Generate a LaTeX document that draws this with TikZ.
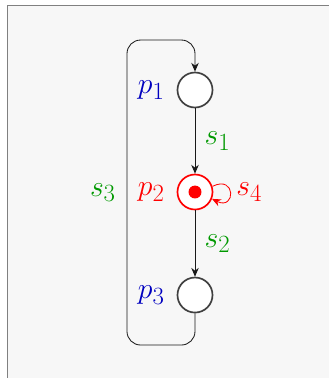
\documentclass[tikz,border=0pt]{standalone}
\usepackage{amsmath,amssymb}
\usepackage{tikz}
\usetikzlibrary{arrows.meta,positioning}

\begin{document}
\begin{tikzpicture}[every node/.style={font=\Huge, inner sep=2pt}, >={Stealth[length=2.6mm, width=2.2mm]}, place/.style={draw=black!75, circle, fill=white, line width=1.4pt, minimum size=10.3mm, inner sep=0pt}, token/.style={circle, fill=red, minimum size=3.8mm, inner sep=0pt}]
	\useasboundingbox (-5.735,5.647) rectangle (3.94,-5.47);
	\draw[gray, fill=black!3] (-5.51,5.49) rectangle (4.5,-6);
	\node[place] (p1) at (0,3) {};
	\node[place, draw=red] (p2) at (0,0) {};
	\node[place] (p3) at (0,-3.03) {};
	\node[token] (tok) at (p2) {};
	\node[left=2.8mm of p1, text=blue!75!black] (lp1) {$p_1$};
	\node[left=2.8mm of p2, text=red] (lp2) {$p_2$};
	\node[left=2.8mm of p3, text=blue!75!black] (lp3) {$p_3$};
	\node[right=6mm of p2, text=red] (ls4) {$s_4$};
	\coordinate (c1) at (-2,-4.5);
	\coordinate (c2) at (-2,4.47);
	\draw[->, line width=0.7pt, black!90] (p1) -- (p2) node[midway, right=2mm, text=green!60!black] {$s_1$};
	\draw[->, line width=0.7pt, black!90] (p2) -- (p3) node[midway, right=2mm, text=green!60!black] {$s_2$};
	\draw[->, line width=0.7pt, black!90, rounded corners=0.4cm] (p3) |- (c1) -- (c2) node[midway, left=2.5mm, text=green!60!black] {$s_3$} -| (p1);
	\draw[->, line width=0.7pt, red] (p2.18) .. controls +(0.7,0.35) and +(0.7,-0.35) .. (p2.-22);
\end{tikzpicture}
\end{document}
